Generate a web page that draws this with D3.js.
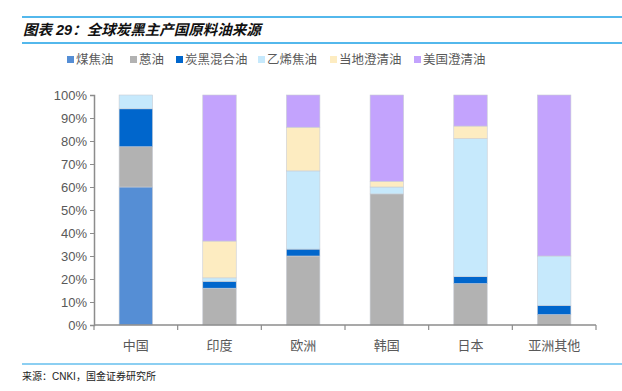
<!DOCTYPE html>
<html>
<head>
<meta charset="utf-8">
<script src="https://cdn.jsdelivr.net/npm/d3@7"></script>
<style>
  body { margin: 0; background: #fff; }
  svg { display: block; font-family: Arial, "Liberation Sans", "Noto Sans CJK SC", sans-serif; }
</style>
</head>
<body>
<svg id="chart"></svg>
<script>
// data (percent of feedstock oil)
const categories = ['中国', '印度', '欧洲', '韩国', '日本', '亚洲其他']
const seriesNames = ['煤焦油', '蒽油', '炭黑混合油', '乙烯焦油', '当地澄清油', '美国澄清油']
const coalTar = [60, 0, 0, 0, 0, 0]
const anthraceneOil = [17.5, 16, 30, 57, 18, 4.5]
const blendOil = [16.5, 3, 3, 0, 3, 4]
const ethyleneTar = [6, 1.5, 34, 3, 60, 21.5]
const localDecant = [0, 16, 19, 2.5, 5.5, 0]
const usDecant = [0, 63.5, 14, 37.5, 13.5, 70]
const yTicks = [0, 10, 20, 30, 40, 50, 60, 70, 80, 90, 100]

const colors = ['#558ed5', '#b2b2b2', '#0066cc', '#c6e9fc', '#fdecc1', '#c3a3fd']
const seriesValues = [coalTar, anthraceneOil, blendOil, ethyleneTar, localDecant, usDecant]

const width = 622
const height = 391
const margin = { top: 95, left: 94, right: 26, bottom: 66 }
const plotW = width - margin.left - margin.right
const plotH = height - margin.top - margin.bottom

const svg = d3.select('#chart')
    .attr('width', width)
    .attr('height', height)

// title block
svg.append('line')
    .attr('x1', 22).attr('x2', width).attr('y1', 17).attr('y2', 17)
    .attr('stroke', '#1aa0e6').attr('stroke-width', 1.5)
svg.append('line')
    .attr('x1', 22).attr('x2', width).attr('y1', 43).attr('y2', 43)
    .attr('stroke', '#1aa0e6').attr('stroke-width', 1.5)
svg.append('text')
    .attr('x', 23).attr('y', 35)
    .attr('font-size', 14.5).attr('font-weight', 'bold').attr('font-style', 'italic')
    .attr('fill', '#111')
    .text('图表 29：全球炭黑主产国原料油来源')

// footer
svg.append('line')
    .attr('x1', 22).attr('x2', width).attr('y1', 364).attr('y2', 364)
    .attr('stroke', '#1aa0e6').attr('stroke-width', 1.2)
svg.append('text')
    .attr('x', 22).attr('y', 380)
    .attr('font-size', 10).attr('fill', '#222')
    .text('来源：CNKI，国金证券研究所')

// stack the series
const table = categories.map((c, i) => {
    const row = { category: c }
    seriesNames.forEach((s, j) => { row[s] = seriesValues[j][i] })
    return row
})
const stacked = d3.stack().keys(seriesNames)(table)

const xScale = d3.scaleBand()
    .domain(categories)
    .range([0, plotW])
    .paddingInner(0.6)
    .paddingOuter(0.3)

const yScale = d3.scaleLinear()
    .domain([0, 100])
    .range([plotH, 0])

const g = svg.append('g')
    .attr('transform', `translate(${margin.left}, ${margin.top})`)

// bars
g.append('g')
    .selectAll('g')
    .data(stacked)
    .enter().append('g')
        .attr('fill', (d, i) => colors[i])
        .selectAll('rect')
        .data(d => d.filter(p => p[1] - p[0] > 0))
        .enter().append('rect')
            .attr('x', d => xScale(d.data.category))
            .attr('width', xScale.bandwidth())
            .attr('y', d => yScale(d[1]))
            .attr('height', d => yScale(d[0]) - yScale(d[1]))
            .attr('stroke', '#c8ccd4')
            .attr('stroke-width', 0.6)

// y axis
const yAxisGroup = g.append('g')
    .call(d3.axisLeft(yScale).tickValues(yTicks).tickFormat(d => `${d}%`).tickSize(4))
yAxisGroup.select('.domain').attr('stroke', '#8c8c8c').attr('stroke-width', 1.5)
yAxisGroup.selectAll('.tick line').attr('stroke', '#8c8c8c')
yAxisGroup.selectAll('text')
    .attr('font-size', 13).attr('fill', '#595959')
    .attr('font-family', 'Arial, "Liberation Sans", sans-serif')
    .attr('x', -7)

// x axis: ticks on the category boundaries
const xBoundaries = d3.range(categories.length + 1)
const xAxisGroup = g.append('g')
    .attr('transform', `translate(0, ${plotH})`)
xAxisGroup.append('line')
    .attr('x1', 0).attr('x2', plotW)
    .attr('stroke', '#8c8c8c').attr('stroke-width', 1.5)
xAxisGroup.selectAll('.boundary')
    .data(xBoundaries)
    .enter().append('line')
        .attr('class', 'boundary')
        .attr('x1', i => i * plotW / categories.length)
        .attr('x2', i => i * plotW / categories.length)
        .attr('y1', 0).attr('y2', 5)
        .attr('stroke', '#8c8c8c').attr('stroke-width', 1.2)
xAxisGroup.selectAll('.cat')
    .data(categories)
    .enter().append('text')
        .attr('class', 'cat')
        .attr('x', d => xScale(d) + xScale.bandwidth() / 2)
        .attr('y', 25)
        .attr('text-anchor', 'middle')
        .attr('font-size', 13).attr('fill', '#595959')
        .attr('font-family', '"Noto Sans CJK SC", sans-serif')
        .text(d => d)

// legend
const legendX = [67, 130, 176, 258, 330, 414]
const legend = svg.append('g')
    .selectAll('g')
    .data(seriesNames)
    .enter().append('g')
        .attr('transform', (d, i) => `translate(${legendX[i]}, 64)`)
legend.append('rect')
    .attr('x', 0).attr('y', -8)
    .attr('width', 7).attr('height', 7)
    .attr('fill', (d, i) => colors[i])
legend.append('text')
    .attr('x', 9).attr('y', 0)
    .attr('font-size', 12.5).attr('fill', '#595959')
    .attr('font-family', '"Noto Sans CJK SC", sans-serif')
    .text(d => d)
</script>
</body>
</html>
